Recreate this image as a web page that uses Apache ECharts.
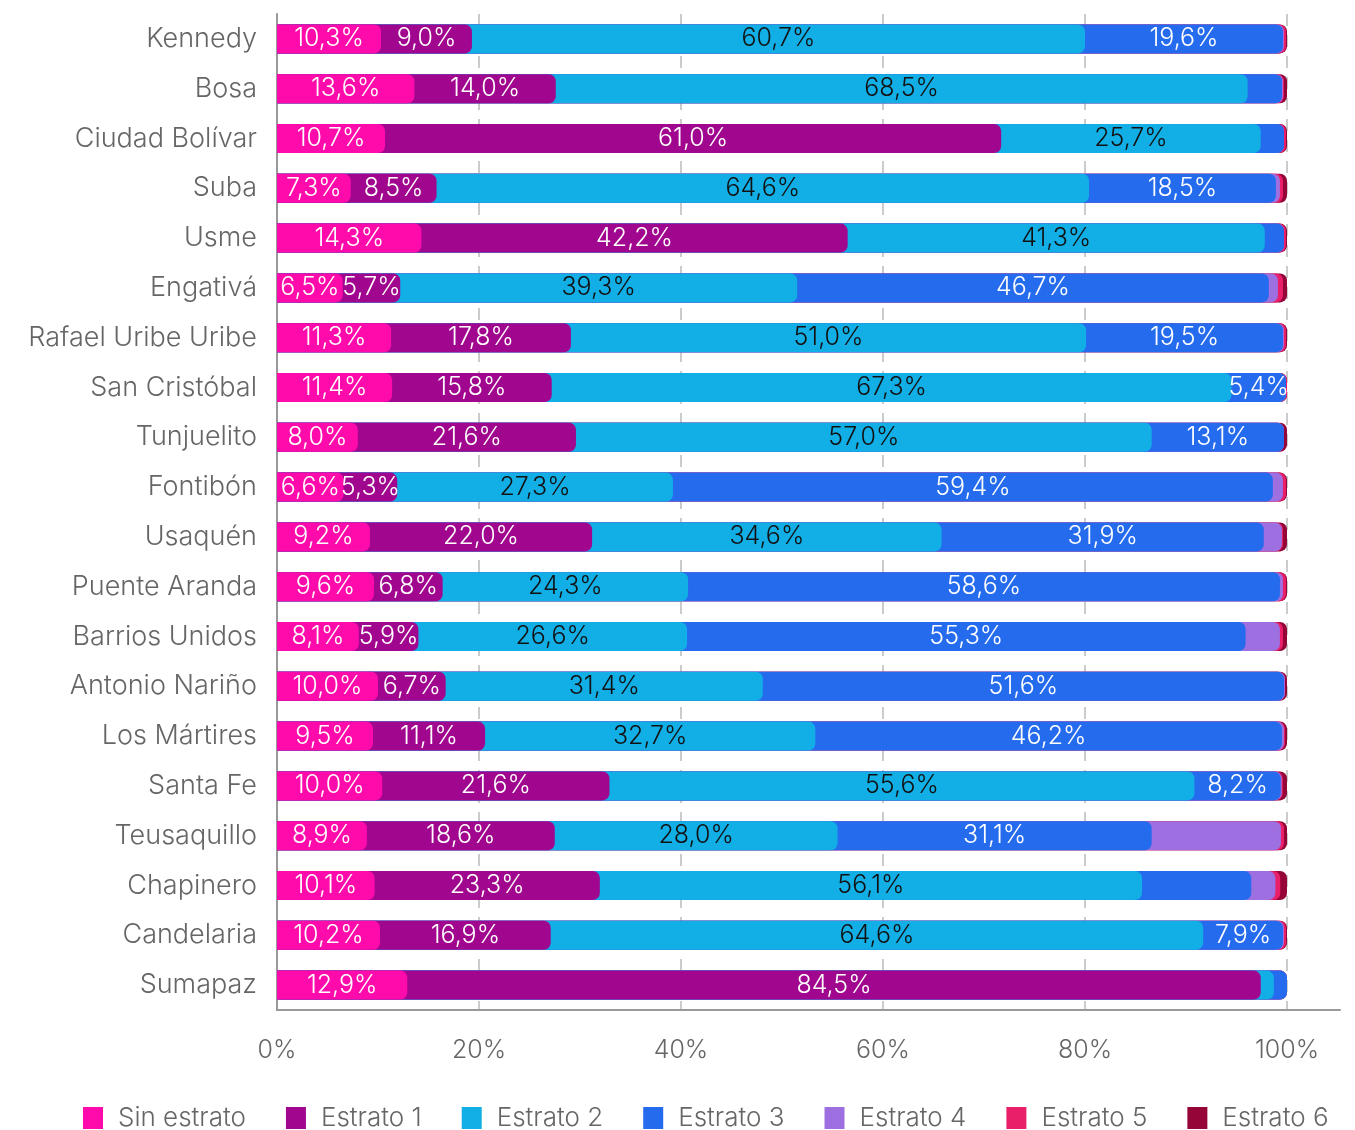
<!DOCTYPE html>
<html>
<head>
<meta charset="utf-8">
<script src="https://cdn.jsdelivr.net/npm/echarts@6/dist/echarts.min.js"></script>
<style>
html, body { margin: 0; padding: 0; background: #fff; }
#chart { width: 1355px; height: 1130px; }
</style>
</head>
<body>
<div id="chart"></div>
<script>
const localidades = ['Kennedy', 'Bosa', 'Ciudad Bolívar', 'Suba', 'Usme', 'Engativá', 'Rafael Uribe Uribe',
  'San Cristóbal', 'Tunjuelito', 'Fontibón', 'Usaquén', 'Puente Aranda', 'Barrios Unidos', 'Antonio Nariño',
  'Los Mártires', 'Santa Fe', 'Teusaquillo', 'Chapinero', 'Candelaria', 'Sumapaz']

const sinEstrato = [10.3, 13.6, 10.7, 7.3, 14.3, 6.5, 11.3, 11.4, 8.0, 6.6, 9.2, 9.6, 8.1, 10.0, 9.5, 10.0, 8.9, 10.1, 10.2, 12.9]
const estrato1 = [9.0, 14.0, 61.0, 8.5, 42.2, 5.7, 17.8, 15.8, 21.6, 5.3, 22.0, 6.8, 5.9, 6.7, 11.1, 21.6, 18.6, 23.3, 16.9, 84.5]
const estrato2 = [60.7, 68.5, 25.7, 64.6, 41.3, 39.3, 51.0, 67.3, 57.0, 27.3, 34.6, 24.3, 26.6, 31.4, 32.7, 55.6, 28.0, 56.1, 64.6, 1.3]
const estrato3 = [19.6, 3.4, 2.3, 18.5, 1.9, 46.7, 19.5, 5.4, 13.1, 59.4, 31.9, 58.6, 55.3, 51.6, 46.2, 8.2, 31.1, 11.3, 7.9, 1.3]
const estrato4 = [0.1, 0.1, 0.0, 0.4, 0.0, 0.9, 0.1, 0.0, 0.0, 1.0, 1.8, 0.3, 3.4, 0.1, 0.2, 0.1, 12.8, 2.5, 0.1, 0.0]
const estrato5 = [0.2, 0.1, 0.2, 0.3, 0.2, 0.5, 0.2, 0.1, 0.0, 0.3, 0.1, 0.3, 0.3, 0.0, 0.1, 0.1, 0.3, 0.5, 0.2, 0.0]
const estrato6 = [0.1, 0.3, 0.1, 0.4, 0.1, 0.4, 0.1, 0.0, 0.3, 0.1, 0.4, 0.1, 0.4, 0.2, 0.2, 0.4, 0.3, 0.7, 0.1, 0.0]

const tickLabels = ['0%', '20%', '40%', '60%', '80%', '100%']

// segments without a printed value in the source
const sinEtiqueta = [['Chapinero', 3]]

const nombres = ['Sin estrato', 'Estrato 1', 'Estrato 2', 'Estrato 3', 'Estrato 4', 'Estrato 5', 'Estrato 6']
const valores = [sinEstrato, estrato1, estrato2, estrato3, estrato4, estrato5, estrato6]
const colores = ['#ff0aab', '#a0068e', '#12aee6', '#256bee', '#9d6fe0', '#ea1f6a', '#960538']
const coloresTexto = ['#ffffff', '#ffffff', '#111111', '#ffffff', '#ffffff', '#ffffff', '#ffffff']

const fuente = 'Inter'

// 100% stacked: each row scaled to its total
const totales = localidades.map((_, i) => valores.reduce((s, arr) => s + arr[i], 0))
const pct = valores.map(arr => arr.map((v, i) => v / totales[i] * 100))
const acumulado = pct.map((_, k) => localidades.map((__, i) => {
  let s = 0
  for (let j = 0; j <= k; j++) s += pct[j][i]
  return s
}))

const formato = (v) => v.toFixed(1).replace('.', ',') + '%'

// visible bars: cumulative lengths overlapped, first segment on top
const barras = nombres.map((name, k) => ({
  name: name,
  type: 'bar',
  xAxisIndex: 0,
  yAxisIndex: 0,
  barWidth: 29,
  barGap: '-100%',
  z: 10 - k,
  itemStyle: {
    color: colores[k],
    borderRadius: [0, 7, 7, 0]
  },
  data: acumulado[k]
}))

// transparent stacked bars that carry the labels in the middle of each segment
const etiquetas = nombres.map((name, k) => ({
  name: 'etiqueta ' + name,
  type: 'bar',
  stack: 'etiquetas',
  xAxisIndex: 0,
  yAxisIndex: 0,
  barWidth: 29,
  barGap: '-100%',
  z: 20,
  silent: true,
  itemStyle: { color: 'rgba(0,0,0,0)' },
  label: {
    show: true,
    position: 'inside',
    color: coloresTexto[k],
    fontFamily: fuente,
    fontWeight: 300,
    fontSize: 25,
    formatter: (p) => {
      const v = valores[k][p.dataIndex]
      const oculto = sinEtiqueta.some(e => e[0] === localidades[p.dataIndex] && e[1] === k)
      if (k > 3 || v < 5 || oculto) return ''
      return formato(v)
    }
  },
  data: pct[k]
}))

const myChart = echarts.init(document.getElementById('chart'))
myChart.setOption({
  animation: false,
  textStyle: { fontFamily: fuente },
  legend: {
    data: nombres,
    left: 78,
    top: 1100,
    width: 1275,
    icon: 'rect',
    itemWidth: 20,
    itemHeight: 22,
    itemGap: 40,
    textStyle: {
      fontFamily: fuente,
      fontWeight: 300,
      fontSize: 26,
      color: '#666',
      padding: [0, 0, 0, 10]
    }
  },
  grid: [
    { left: 277, right: 68, top: 14, bottom: 120 },
    { left: 277, right: 15, top: 14, bottom: 120 }
  ],
  xAxis: [
    {
      gridIndex: 0,
      type: 'value',
      min: 0,
      max: 100,
      interval: 20,
      axisLine: { show: false },
      axisTick: { show: false },
      splitLine: {
        show: true,
        lineStyle: { color: '#bbb', width: 1.5, type: [12, 9] }
      },
      axisLabel: {
        margin: 28,
        fontFamily: fuente,
        fontWeight: 300,
        fontSize: 25,
        color: '#666',
        formatter: (v) => tickLabels[Math.round(v / 20)] || ''
      }
    },
    {
      gridIndex: 1,
      type: 'value',
      min: 0,
      max: 100,
      axisLine: { show: true, lineStyle: { color: '#999', width: 2 } },
      axisTick: { show: false },
      splitLine: { show: false },
      axisLabel: { show: false }
    }
  ],
  yAxis: [
    {
      gridIndex: 0,
      type: 'category',
      inverse: true,
      data: localidades,
      axisLine: { show: true, lineStyle: { color: '#999', width: 2 } },
      axisTick: { show: false },
      axisLabel: {
        margin: 20,
        fontFamily: fuente,
        fontWeight: 300,
        fontSize: 27,
        color: '#666'
      }
    },
    {
      gridIndex: 1,
      type: 'category',
      inverse: true,
      data: localidades,
      show: false
    }
  ],
  series: barras.concat(etiquetas)
})
</script>
</body>
</html>
